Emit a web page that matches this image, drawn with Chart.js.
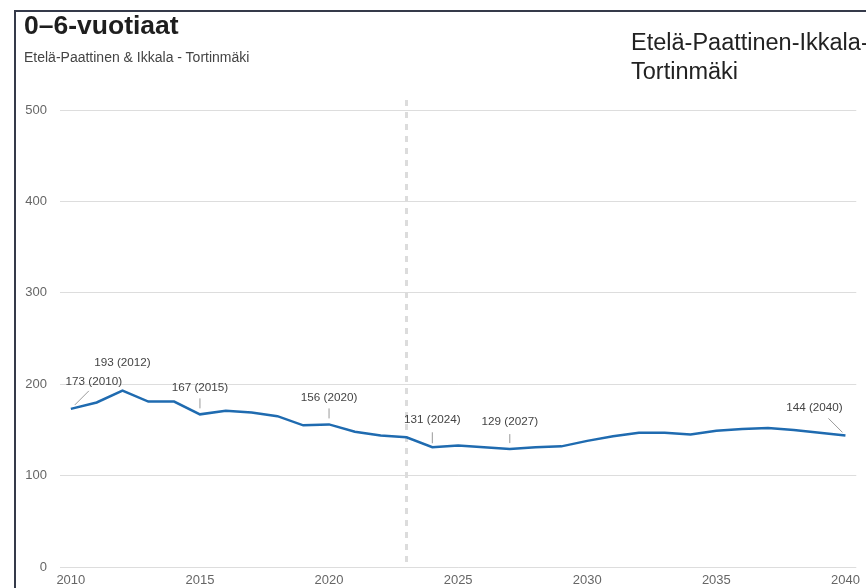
<!DOCTYPE html>
<html><head><meta charset="utf-8">
<script src="https://cdn.jsdelivr.net/npm/chart.js@4.4.1/dist/chart.umd.min.js"></script>
<style>
html,body{margin:0;padding:0;background:#fff;width:866px;height:588px;overflow:hidden;font-family:"Liberation Sans",Arial,sans-serif;}
#frame{position:absolute;left:14px;top:10px;width:860px;height:590px;border-left:2px solid #353a4a;border-top:2px solid #353a4a;}
#title{position:absolute;left:24px;top:12px;font-size:26.5px;line-height:1;font-weight:bold;color:#1e1e1e;white-space:nowrap;}
#sub{position:absolute;left:24px;top:50px;font-size:14px;line-height:1;color:#444;white-space:nowrap;}
#right{position:absolute;left:631px;top:28px;font-size:23.5px;line-height:28.5px;color:#222;white-space:nowrap;}
canvas{position:absolute;left:0;top:0;}
</style></head>
<body>
<canvas id="c" width="866" height="588"></canvas>
<div id="frame"></div>
<div id="title">0–6-vuotiaat</div>
<div id="sub">Etelä-Paattinen &amp; Ikkala - Tortinmäki</div>
<div id="right">Etelä-Paattinen-Ikkala-<br>Tortinmäki</div>
<script>
const years = [2010,2011,2012,2013,2014,2015,2016,2017,2018,2019,2020,2021,2022,2023,2024,2025,2026,2027,2028,2029,2030,2031,2032,2033,2034,2035,2036,2037,2038,2039,2040];
const values = [173,180,193,181,181,167,171,169,165,155,156,148,144,142,131,133,131,129,131,132,138,143,147,147,145,149,151,152,150,147,144];
const xTicks = [2010,2015,2020,2025,2030,2035,2040];
const yTicks = [0,100,200,300,400,500];
const annotatedYears = [2010,2012,2015,2020,2024,2027,2040];
const forecastStartYear = 2023;

// label placement styles (offsets in px relative to point)
const labelStyle = {
  2010:{dx:23,dy:-27,line:[4,-4,18,-18]},
  2012:{dx:0,dy:-28,line:null},
  2015:{dx:0,dy:-27,line:[0,-6,0,-16]},
  2020:{dx:0,dy:-27,line:[0,-6,0,-16]},
  2024:{dx:0,dy:-27,line:[0,-4,0,-15]},
  2027:{dx:0,dy:-27,line:[0,-6,0,-15]},
  2040:{dx:-31,dy:-28,line:[-3,-3,-17,-17]}
};
const FONT = '"Liberation Sans",Arial,sans-serif';

const annotPlugin = {
  id:'annot',
  beforeDatasetsDraw(chart){
    const {ctx, chartArea, scales:{x}} = chart;
    const px = x.getPixelForValue(forecastStartYear);
    ctx.save();
    ctx.strokeStyle = '#dcdcdc';
    ctx.lineWidth = 3;
    ctx.setLineDash([6,6]);
    ctx.beginPath();
    ctx.moveTo(px, chartArea.top - 10);
    ctx.lineTo(px, chartArea.bottom);
    ctx.stroke();
    ctx.restore();
  },
  afterDatasetsDraw(chart){
    const {ctx, scales:{x,y}} = chart;
    ctx.save();
    ctx.font = '11.7px ' + FONT;
    ctx.textAlign = 'center';
    ctx.textBaseline = 'middle';
    annotatedYears.forEach(yr=>{
      const i = years.indexOf(yr);
      const v = values[i];
      const px = x.getPixelForValue(yr), py = y.getPixelForValue(v);
      const s = labelStyle[yr];
      if (s.line){
        ctx.strokeStyle = '#9a9a9a';
        ctx.lineWidth = 1;
        ctx.beginPath();
        ctx.moveTo(px+s.line[0], py+s.line[1]);
        ctx.lineTo(px+s.line[2], py+s.line[3]);
        ctx.stroke();
      }
      ctx.fillStyle = '#444';
      ctx.fillText(v + ' (' + yr + ')', px+s.dx, py+s.dy);
    });
    ctx.restore();
  }
};

new Chart(document.getElementById('c'), {
  type:'line',
  data:{
    datasets:[{
      data: years.map((yr,i)=>({x:yr,y:values[i]})),
      borderColor:'#1f6bb0',
      borderWidth:2.5,
      pointRadius:0,
      tension:0,
      fill:false
    }]
  },
  options:{
    responsive:false,
    animation:false,
    layout:{padding:{left:0,top:110,right:7,bottom:0}},
    plugins:{legend:{display:false},tooltip:{enabled:false}},
    scales:{
      x:{
        type:'linear',
        min:2009.58, max:2040.42,
        afterBuildTicks(s){ s.ticks = xTicks.map(v=>({value:v})); },
        afterFit(s){ s.height = 21; },
        grid:{display:false, drawTicks:false},
        border:{display:false},
        ticks:{padding:6, color:'#666', font:{size:13, family:FONT}, maxRotation:0, autoSkip:false, callback:v=>String(v)}
      },
      y:{
        min:0, max:500,
        afterBuildTicks(s){ s.ticks = yTicks.map(v=>({value:v})); },
        afterFit(s){ s.width = 60; },
        grid:{color:'#dddddd', drawTicks:false, lineWidth:1},
        border:{display:false},
        ticks:{padding:13, color:'#666', font:{size:13, family:FONT}}
      }
    }
  },
  plugins:[annotPlugin]
});
</script>
</body></html>
